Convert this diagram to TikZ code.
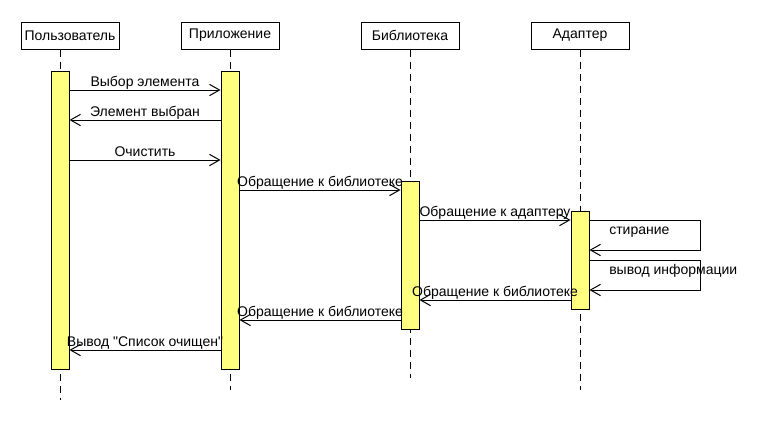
\documentclass[tikz,border=0pt]{standalone}
\usepackage{fontspec}
\setmainfont{Liberation Sans}
\usetikzlibrary{arrows.meta,backgrounds}

\definecolor{barfill}{RGB}{255,255,128}

\tikzset{
	head/.style={draw, line width=0.75pt, minimum width=73.5pt, minimum height=20.25pt, inner sep=0pt},
	lifeline/.style={line width=0.75pt, dash pattern=on 5.25pt off 3.75pt},
	actbar/.style={draw, fill=barfill, line width=0.75pt, minimum width=13.5pt, inner sep=0pt},
	msg/.style={line width=0.75pt, -{Straight Barb[length=7.5pt,width=8.5pt,line width=0.75pt]}},
	lbl/.style={anchor=base, yshift=2.5pt, inner sep=0pt},
	note/.style={anchor=base west, inner sep=0pt}
}

\begin{document}
\begin{tikzpicture}[x=0.75pt, y=-0.75pt, font=\fontsize{10.5}{12}\selectfont]
		\useasboundingbox (0, 0) rectangle (770, 440);
		
		% headers
		\node[head] (user) at (70, 35.5) {Пользователь};
		\node[head] (app) at (230, 35.5) {Приложение};
		\node[head] (lib) at (410, 35.5) {Библиотека};
		\node[head] (adp) at (580, 35.5) {Адаптер};
		
		% activation bars
		\node[actbar, minimum height=223.5pt] (userbar) at (60, 220) {};
		\node[actbar, minimum height=223.5pt] (appbar) at (230, 220) {};
		\node[actbar, minimum height=111pt] (libbar) at (410, 255) {};
		\node[actbar, minimum height=73.5pt] (adpbar) at (580, 260) {};
		
		% lifelines
		\begin{scope}[on background layer]
			\draw[lifeline] (userbar |- user.south) -- (userbar |- 0, 400);
			\draw[lifeline] (app.south) -- (app |- 0, 390);
			\draw[lifeline] (lib.south) -- (lib |- 0, 378);
			\draw[lifeline] (adp.south) -- (adp |- 0, 390);
		\end{scope}
		
		% messages
		\draw[msg] (userbar.east |- 0, 90) -- node[lbl] {Выбор элемента} (appbar.west |- 0, 90);
		\draw[msg] (appbar.west |- 0, 120) -- node[lbl] {Элемент выбран} (userbar.east |- 0, 120);
		\draw[msg] (userbar.east |- 0, 160) -- node[lbl] {Очистить} (appbar.west |- 0, 160);
		\draw[msg] (appbar.east |- 0, 190) -- node[lbl] {Обращение к библиотеке} (libbar.west |- 0, 190);
		\draw[msg] (libbar.east |- 0, 220) -- node[lbl] {Обращение к адаптеру} (adpbar.west |- 0, 220);
		
		% self calls
		\draw[msg] (adpbar.east |- 0, 220) -- ++(111, 0) -- ++(0, 30) -- (adpbar.east |- 0, 250);
		\node[note] (erase) at (609, 234) {стирание};
		\draw[msg] (adpbar.east |- 0, 260) -- ++(111, 0) -- ++(0, 30) -- (adpbar.east |- 0, 290);
		\node[note] (info) at (609, 274) {вывод информации};
		
		% replies
		\draw[msg] (adpbar.west |- 0, 300) -- node[lbl] {Обращение к библиотеке} (libbar.east |- 0, 300);
		\draw[msg] (libbar.west |- 0, 320) -- node[lbl] {Обращение к библиотеке} (appbar.east |- 0, 320);
		\draw[msg] (appbar.west |- 0, 350) -- node[lbl] {Вывод \textquotedbl Список очищен\textquotedbl} (userbar.east |- 0, 350);
	\end{tikzpicture}
\end{document}
